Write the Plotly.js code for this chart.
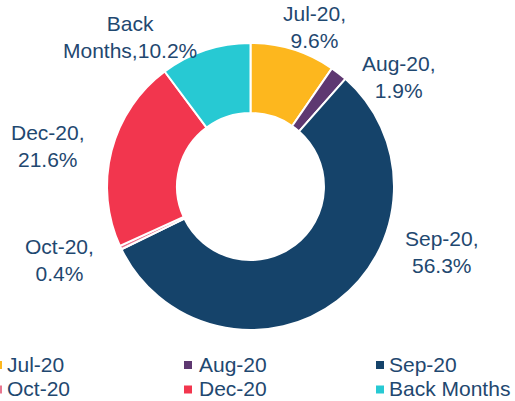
<!DOCTYPE html>
<html>
<head>
<meta charset="utf-8">
<script src="https://cdn.plot.ly/plotly-3.0.1.min.js"></script>
<style>html,body{margin:0;padding:0;background:#fff;}#chart{width:515px;height:401px;}</style>
</head>
<body>
<div id="chart"></div>
<script>
const labels = ["Jul-20", "Aug-20", "Sep-20", "Oct-20", "Dec-20", "Back Months"];
const values = [9.6, 1.9, 56.3, 0.4, 21.6, 10.2];
const colors = ["#FDB71E", "#5E3871", "#15436A", "#E9768F", "#F2364E", "#27C9D3"];

const W = 515, H = 401;
const textColor = "#1F4870";
const fontFam = "Liberation Sans, Arial, sans-serif";

// pixel positions (centers) of outside data labels
const labelPos = [[314, 27], [399, 77], [442, 252], [59, 259.5], [48, 146.5], [130, 36.5]];
// legend layout (pixel)
const legendTextX = [5, 197, 387];
const legendSqX = [-6, 184, 376];
const legendRowY = [364, 388.5];

function dataLabel(i) {
  const name = labels[i];
  const pct = values[i].toFixed(1) + "%";
  if (name.indexOf(" ") >= 0) {
    return name.replace(" ", "<br>") + "," + pct;
  }
  return name + ",<br>" + pct;
}

const annotations = [];
const shapes = [];
labels.forEach((name, i) => {
  annotations.push({
    xref: "paper", yref: "paper",
    x: labelPos[i][0] / W, y: 1 - labelPos[i][1] / H,
    xanchor: "center", yanchor: "middle", align: "center",
    text: dataLabel(i), showarrow: false,
    font: {family: fontFam, size: 21, color: textColor}
  });
  const col = i % 3, row = Math.floor(i / 3);
  annotations.push({
    xref: "paper", yref: "paper",
    x: legendTextX[col] / W, y: 1 - legendRowY[row] / H,
    xanchor: "left", yanchor: "middle", align: "left",
    text: name, showarrow: false,
    font: {family: fontFam, size: 21, color: textColor}
  });
  shapes.push({
    type: "rect", xref: "paper", yref: "paper",
    x0: legendSqX[col] / W, x1: (legendSqX[col] + 8) / W,
    y0: 1 - (legendRowY[row] - 3) / H, y1: 1 - (legendRowY[row] + 5) / H,
    fillcolor: colors[i], line: {width: 0}
  });
});

const trace = {
  type: "pie",
  labels: labels,
  values: values,
  hole: 0.512,
  sort: false,
  direction: "clockwise",
  rotation: 0,
  textinfo: "none",
  hoverinfo: "label+percent",
  marker: {colors: colors, line: {color: "#ffffff", width: 2}},
  domain: {x: [107 / W, 394 / W], y: [71 / H, 358 / H]}
};

const layout = {
  width: W, height: H,
  margin: {l: 0, r: 0, t: 0, b: 0},
  paper_bgcolor: "#ffffff",
  showlegend: false,
  annotations: annotations,
  shapes: shapes,
  font: {family: fontFam}
};

Plotly.newPlot("chart", [trace], layout, {displayModeBar: false, staticPlot: true});
</script>
</body>
</html>
